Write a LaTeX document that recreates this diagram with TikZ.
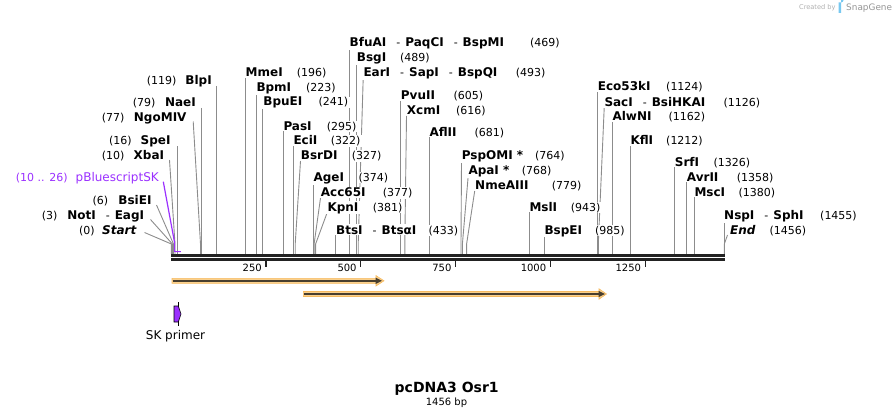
\documentclass[tikz,border=0pt]{standalone}
\usepackage{fontspec}
\setmainfont{DejaVu Sans}[BoldFont={DejaVu Sans Bold},ItalicFont={DejaVu Sans Oblique},BoldItalicFont={DejaVu Sans Bold Oblique}]
\definecolor{linegray}{RGB}{140,140,140}
\definecolor{bardark}{RGB}{34,34,34}
\definecolor{featfill}{RGB}{250,208,140}
\definecolor{featedge}{RGB}{246,186,96}
\definecolor{featdark}{RGB}{72,62,46}
\definecolor{bspurple}{RGB}{155,48,255}
\definecolor{wmgray}{RGB}{175,175,175}
\definecolor{wmblue}{RGB}{120,200,240}
\newcommand\enzsep{\hspace{10pt}{\mdseries\fontsize{11}{13}\selectfont -}\hspace{5pt}}
\tikzset{
  enz/.style={font=\fontsize{12}{14}\selectfont\bfseries, anchor=base west, fill=white, inner xsep=2pt, inner ysep=1pt, xshift=-2pt},
  enzL/.style={font=\fontsize{12}{14}\selectfont\bfseries, anchor=base east, fill=white, inner xsep=2pt, inner ysep=1pt, xshift=2pt},
  num/.style={font=\fontsize{11}{13}\selectfont, anchor=base west, fill=white, inner xsep=2pt, inner ysep=1pt, xshift=-2pt},
  cut/.style={draw=linegray, line width=0.9pt},
  barline/.style={draw=bardark, line width=2.5pt},
  tick/.style={draw=bardark, line width=1.3pt},
  ticklab/.style={font=\fontsize{10}{12}\selectfont, anchor=base east, inner sep=0pt},
  feat/.style={fill=featfill, draw=featedge, line width=0.6pt},
}
\begin{document}
\begin{tikzpicture}[x=1pt,y=-1pt]
\useasboundingbox (0,0) rectangle (896,417);

% ---------- cut-site lines (center / right) ----------
\draw[cut] (245.3,78) -- (245.3,254);
\draw[cut] (256.5,93) -- (256.5,254);
\draw[cut] (262.7,107) -- (262.7,254);
\draw[cut] (283.3,131) -- (283.3,254);
\draw[cut] (293.3,146) -- (293.3,254);
\draw[cut] (300.5,161) -- (295.2,244) -- (295.2,254);
\draw[cut] (313.2,182) -- (313.2,254);
\draw[cut] (320.5,198) -- (314.1,244) -- (314.1,254);
\draw[cut] (327.2,212.5) -- (315.6,244) -- (315.6,254);
\draw[cut] (335.5,235) -- (335.5,254);
\draw[cut] (349.2,48) -- (349.2,254);
\draw[cut] (356.7,63) -- (356.7,254);
\draw[cut] (363.2,78) -- (358.2,244) -- (358.2,254);
\draw[cut] (400.6,101) -- (400.6,254);
\draw[cut] (406.5,116) -- (404.8,244) -- (404.8,254);
\draw[cut] (429.3,137) -- (429.3,254);
\draw[cut] (461.5,161) -- (461.0,244) -- (461.0,254);
\draw[cut] (468.2,176) -- (462.4,244) -- (462.4,254);
\draw[cut] (474.7,191) -- (466.6,244) -- (466.6,254);
\draw[cut] (529.0,212) -- (529.0,254);
\draw[cut] (544.3,235) -- (544.3,254);
\draw[cut] (597.6,92) -- (597.6,254);
\draw[cut] (604.2,108) -- (598.3,244) -- (598.3,254);
\draw[cut] (612.0,122) -- (612.0,254);
\draw[cut] (630.3,146) -- (630.3,254);
\draw[cut] (674.4,167) -- (674.4,254);
\draw[cut] (686.4,182) -- (686.4,254);
\draw[cut] (694.3,197) -- (694.3,254);
\draw[cut] (724.0,221) -- (724.0,254);
\draw[cut] (727.5,235) -- (724.3,244) -- (724.3,254);

% ---------- cut-site lines (left) ----------
\draw[cut] (216.6,86) -- (216.6,254);
\draw[cut] (201.3,108) -- (201.3,254);
\draw[cut] (193.2,121.5) -- (200.5,244) -- (200.5,254);
\draw[cut] (177.3,146) -- (177.3,254);
\draw[cut] (169.5,160) -- (175.0,244) -- (175.0,254);
\draw[cut] (156.5,205) -- (173.5,244) -- (173.5,254);
\draw[cut] (150.5,219.5) -- (172.4,244) -- (172.4,254);
\draw[cut] (144.5,232.5) -- (171.4,244) -- (171.4,254);
\draw[draw=bspurple, line width=1.2pt] (163.3,181.7) -- (174.6,242.7) -- (174.6,251.6) -- (180.8,251.6);

% ---------- sequence bar ----------
\draw[barline] (171,255.5) -- (725,255.5);
\draw[barline] (171,259.5) -- (725,259.5);
\foreach \x/\l in {266/250, 360.8/500, 455.6/750, 550.4/1000, 645.2/1250} {
  \draw[tick] (\x,260.7) -- (\x,267.3);
  \node[ticklab] at (\x-4,271) {\l};
}

% ---------- features ----------
\path[feat] (172,278.3) -- (376,278.3) -- (376,275.6) -- (384,280.8) -- (376,286.0) -- (376,283.3) -- (172,283.3) -- cycle;
\draw[featdark, line width=1.5pt] (172.6,280.8) -- (377,280.8);
\fill[featdark] (375.5,277.6) -- (382,280.8) -- (375.5,284.0) -- cycle;
\path[feat] (303.3,291.5) -- (599,291.5) -- (599,288.8) -- (606.5,294) -- (599,299.2) -- (599,296.5) -- (303.3,296.5) -- cycle;
\draw[featdark, line width=1.5pt] (304,294) -- (600,294);
\fill[featdark] (598.5,290.8) -- (605,294) -- (598.5,297.2) -- cycle;

% primer
\draw[black, line width=0.9pt] (178.3,302) -- (178.3,326);
\filldraw[fill=bspurple, draw=black, line width=0.6pt] (174,306) -- (178.3,306) -- (181,314) -- (178.3,322) -- (174,322) -- cycle;
\node[font=\fontsize{12}{14}\selectfont, anchor=base, inner sep=0pt] (skp) at (175.5,339.3) {SK primer};

% ---------- center / right labels ----------
\node[enz] (e1) at (245.5,77.0) {MmeI};        \node[num] at (296.7,77.0) {(196)};
\node[enz] (e2) at (256.3,91.6) {BpmI};        \node[num] at (306.0,91.6) {(223)};
\node[enz] (e3) at (263.2,106.0) {BpuEI};      \node[num] at (318.3,106.0) {(241)};
\node[enz] (e4) at (283.3,130.0) {PasI};       \node[num] at (326.7,130.0) {(295)};
\node[enz] (e5) at (293.3,144.3) {EciI};       \node[num] at (330.7,144.3) {(322)};
\node[enz] (e6) at (300.7,159.3) {BsrDI};      \node[num] at (351.7,159.3) {(327)};
\node[enz] (e7) at (313.3,181.0) {AgeI};       \node[num] at (358.3,181.0) {(374)};
\node[enz] (e8) at (320.7,196.6) {Acc65I};     \node[num] at (382.7,196.6) {(377)};
\node[enz] (e9) at (327.3,211.0) {KpnI};       \node[num] at (372.7,211.0) {(381)};
\node[enz] (e10) at (336.0,234.0) {BtsI\enzsep Btsα{}I}; \node[num] at (428.3,234.0) {(433)};
\node[enz] (e11) at (349.5,46.3) {BfuAI\enzsep PaqCI\enzsep BspMI}; \node[num] at (530.0,46.3) {(469)};
\node[enz] (e12) at (356.7,61.3) {BsgI};       \node[num] at (400.0,61.3) {(489)};
\node[enz] (e13) at (363.3,77.0) {EarI\enzsep SapI\enzsep BspQI}; \node[num] at (515.7,77.0) {(493)};
\node[enz] (e14) at (400.7,99.3) {PvuII};      \node[num] at (453.3,99.3) {(605)};
\node[enz] (e15) at (406.7,114.3) {XcmI};      \node[num] at (456.0,114.3) {(616)};
\node[enz] (e16) at (429.3,136.0) {AflII};     \node[num] at (474.3,136.0) {(681)};
\node[enz] (e17) at (461.7,159.3) {PspOMI *};  \node[num] at (535.0,159.3) {(764)};
\node[enz] (e18) at (468.3,174.3) {ApaI *};    \node[num] at (521.7,174.3) {(768)};
\node[enz] (e19) at (475.0,189.3) {NmeAIII};   \node[num] at (551.7,189.3) {(779)};
\node[enz] (e20) at (529.3,211.0) {MslI};      \node[num] at (570.7,211.0) {(943)};
\node[enz] (e21) at (544.3,234.0) {BspEI};     \node[num] at (595.0,234.0) {(985)};
\node[enz] (e22) at (597.7,91.0) {Eco53kI};    \node[num] at (666.0,91.0) {(1124)};
\node[enz] (e23) at (604.3,106.6) {SacI\enzsep BsiHKAI}; \node[num] at (723.3,106.6) {(1126)};
\node[enz] (e24) at (612.3,121.0) {AlwNI};     \node[num] at (668.3,121.0) {(1162)};
\node[enz] (e25) at (630.3,144.3) {KflI};      \node[num] at (666.0,144.3) {(1212)};
\node[enz] (e26) at (674.7,166.0) {SrfI};      \node[num] at (713.3,166.0) {(1326)};
\node[enz] (e27) at (686.7,181.0) {AvrII};     \node[num] at (736.7,181.0) {(1358)};
\node[enz] (e28) at (694.3,196.0) {MscI};      \node[num] at (738.3,196.0) {(1380)};
\node[enz] (e29) at (724.0,219.3) {NspI\enzsep SphI}; \node[num] at (820.0,219.3) {(1455)};
\node[enz] (e30) at (730.0,234.3) {\itshape End}; \node[num] at (769.3,234.3) {(1456)};

% ---------- left labels ----------
\node[enzL] (l1) at (212.0,84.3) {BlpI};      \node[num] at (146.7,84.3) {(119)};
\node[enzL] (l2) at (196.0,106.6) {NaeI};     \node[num] at (132.7,106.6) {(79)};
\node[enzL] (l3) at (186.7,121.6) {NgoMIV};   \node[num] at (101.7,121.6) {(77)};
\node[enzL] (l4) at (170.7,144.3) {SpeI};     \node[num] at (109.0,144.3) {(16)};
\node[enzL] (l5) at (164.3,159.3) {XbaI};     \node[num] at (101.7,159.3) {(10)};
\node[enzL, font=\fontsize{12}{14}\selectfont, text=bspurple] (l6) at (159.0,181.6) {pBluescriptSK};
\node[num, text=bspurple] at (15.7,181.6) {(10 .. 26)};
\node[enzL] (l7) at (151.7,204.3) {BsiEI};    \node[num] at (92.3,204.3) {(6)};
\node[enzL] (l8) at (144.3,219.3) {NotI\enzsep EagI}; \node[num] at (41.7,219.3) {(3)};
\node[enzL] (l9) at (136.5,234.3) {\itshape Start}; \node[num] at (79.0,234.3) {(0)};

% ---------- title ----------
\node[font=\fontsize{14}{16}\selectfont\bfseries, anchor=base, inner sep=0pt] (title) at (446.7,392.5) {pcDNA3 Osr1};
\node[font=\fontsize{10}{12}\selectfont, anchor=base, inner sep=0pt] (len) at (446.5,405.5) {1456 bp};

% ---------- watermark ----------
\node[font=\fontsize{6.6}{8}\selectfont, text=wmgray, anchor=base west, inner sep=0pt] (wm1) at (799,10) {Created by};
\fill[wmblue] (838.5,2.5) rectangle (841,13) (841,2.5) arc[start angle=90, end angle=-90, radius=2.6];
\node[font=\fontsize{8.9}{10}\selectfont, text=wmgray!85!black, anchor=base west, inner sep=0pt] (wm2) at (846,11) {SnapGene};
\end{tikzpicture}
\end{document}
